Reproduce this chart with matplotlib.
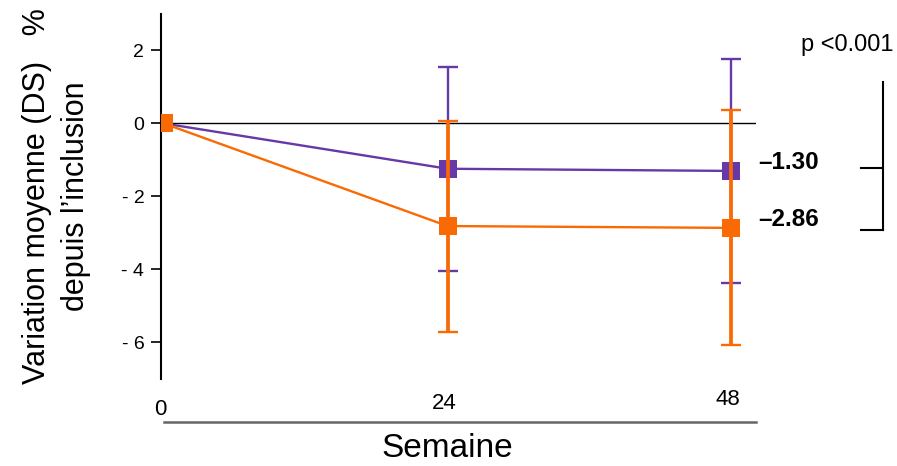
import matplotlib
matplotlib.use("Agg")
import matplotlib.pyplot as plt
from matplotlib import transforms

plt.rcParams["font.family"] = ["Liberation Sans", "DejaVu Sans"]

# ─── Data ────────────────────────────────────────────────────────────────
weeks = [0, 24, 48]
week_labels = ["0", "24", "48"]

purple_mean = [0.0, -1.24, -1.30]
purple_lo = [0.0, -4.04, -4.37]
purple_hi = [0.0, 1.54, 1.77]

orange_mean = [0.0, -2.81, -2.86]
orange_lo = [0.0, -5.72, -6.08]
orange_hi = [0.0, 0.07, 0.37]

end_labels = ["\u20131.30", "\u20132.86"]
y_ticks = [2, 0, -2, -4, -6]
y_tick_labels = ["2", "0", "- 2", "- 4", "- 6"]

PURPLE = "#6639A6"
ORANGE = "#F96A05"

fig = plt.figure(figsize=(8.97, 4.66), dpi=100)
ax = fig.add_axes([0.1795, 0.1867, 0.6633, 0.7833])
ax.set_xlim(-0.25, 50.1)
ax.set_ylim(-7, 3)

ax.axhline(0, color="black", linewidth=1.0, zorder=1)

for mean, lo, hi, col, lw_err, z in [
    (purple_mean, purple_lo, purple_hi, PURPLE, 1.7, 2),
    (orange_mean, orange_lo, orange_hi, ORANGE, 2.7, 3),
]:
    yerr = [[m - l for m, l in zip(mean, lo)], [h - m for m, h in zip(mean, hi)]]
    ax.errorbar(weeks[1:], mean[1:], yerr=[yerr[0][1:], yerr[1][1:]],
                fmt="none", ecolor=col, elinewidth=lw_err, capsize=7.2,
                capthick=1.7, zorder=z)
    ax.plot(weeks, mean, color=col, linewidth=1.7, marker="s",
            markersize=13, markeredgewidth=0, zorder=z + 0.5)

# spines
for s in ["top", "right"]:
    ax.spines[s].set_visible(False)
ax.spines["left"].set_linewidth(1.5)
ax.spines["bottom"].set_position(("outward", 31))
ax.spines["bottom"].set_color("#666666")
ax.spines["bottom"].set_linewidth(1.8)
ax.spines["bottom"].set_bounds(0, 50.1)

ax.set_yticks(y_ticks)
ax.set_yticklabels(y_tick_labels, fontsize=14)
ax.tick_params(axis="y", length=7, width=1.2, pad=5)
ax.set_xticks([])

# x labels placed above the outward line
trans = transforms.blended_transform_factory(ax.transData, ax.transAxes)
x_label_y = [-0.083, -0.066, -0.057]
for w, lab, yy in zip(weeks, week_labels, x_label_y):
    ax.text(w - 0.3, yy, lab, transform=trans, ha="center", va="center",
            fontsize=16)

ax.text(24, -0.19, "Semaine", transform=trans, ha="center", va="center",
        fontsize=24)

ax.set_ylabel("Variation moyenne (DS)   %\ndepuis l\u2019inclusion",
              fontsize=22, labelpad=22, linespacing=1.4)

# end-value labels
ax.text(50.3, purple_mean[-1] + 0.23, end_labels[0], fontsize=17.5,
        fontweight="bold", ha="left", va="center", clip_on=False)
ax.text(50.3, orange_mean[-1] + 0.23, end_labels[1], fontsize=17.5,
        fontweight="bold", ha="left", va="center", clip_on=False)

# significance bracket
ax.plot([60.85, 60.85], [1.15, -2.93], color="black", lw=1.5, clip_on=False)
ax.plot([59.0, 60.85], [purple_mean[-1] + 0.07, purple_mean[-1] + 0.07],
        color="black", lw=1.5, clip_on=False)
ax.plot([59.0, 60.85], [-2.93, -2.93], color="black", lw=1.5, clip_on=False)
ax.text(57.8, 2.14, "p <0.001", fontsize=17, ha="center", va="center",
        clip_on=False)

fig.savefig("out.png", dpi=100)
